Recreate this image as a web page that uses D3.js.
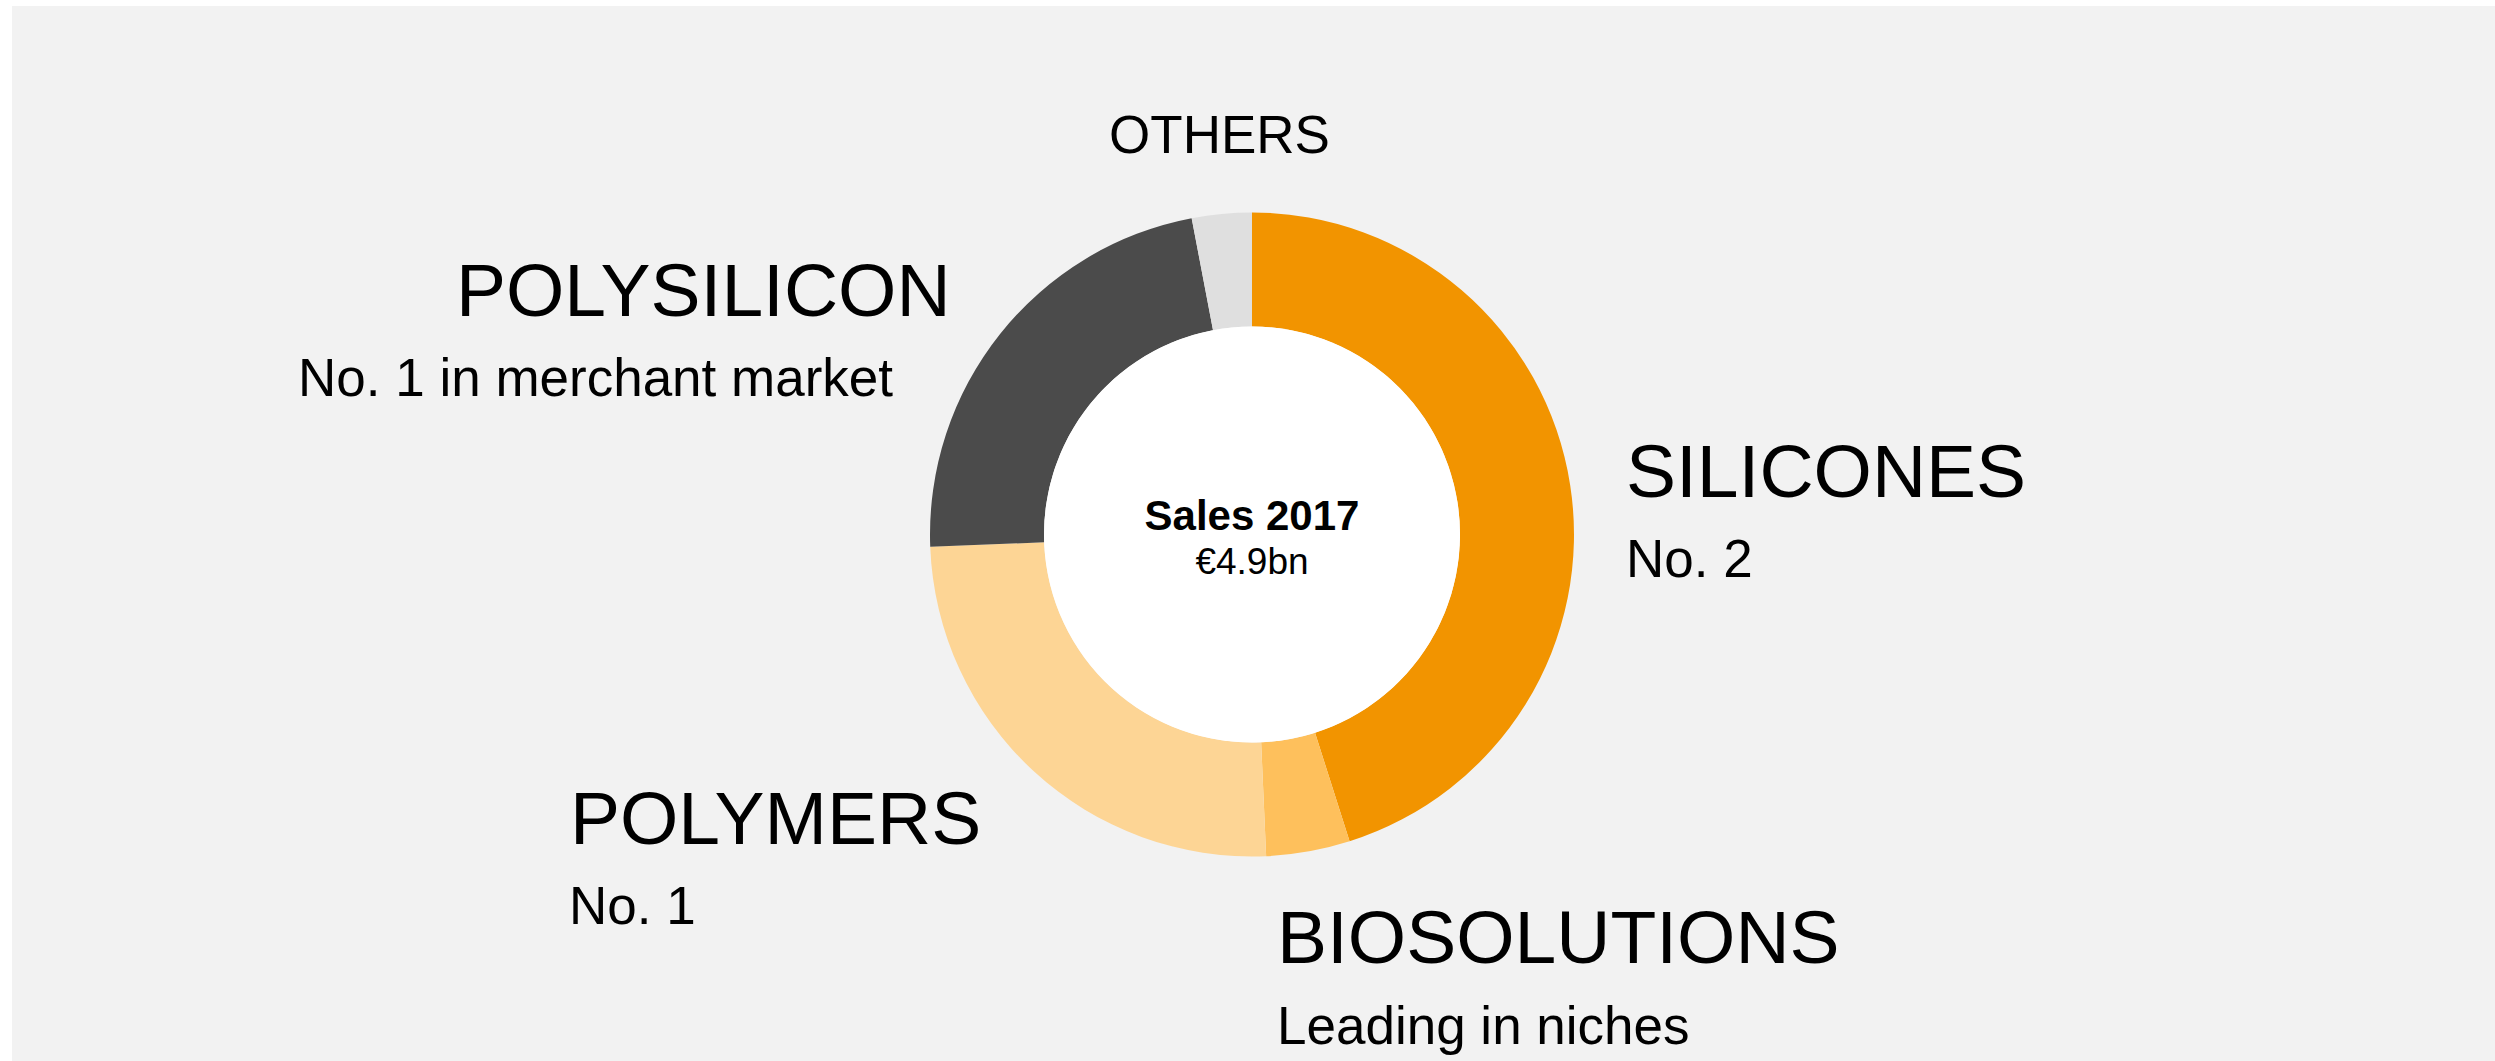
<!DOCTYPE html>
<meta charset="utf-8">
<title>Sales 2017 by division</title>
<script src="https://d3js.org/d3.v7.min.js"></script>

<style>
  body {
    margin: 0;
    background-color: #ffffff;
  }

  text {
    font-family: "Liberation Sans", Arial, Helvetica, sans-serif;
    fill: #000;
  }

  .title {
    font-size: 75px;
  }

  .sub {
    font-size: 53px;
  }
</style>

<body>
  <svg width="2495" height="1061"></svg>
</body>

<script>
  // share of sales 2017, in %, clockwise from 12 o'clock
  var divisions = ["SILICONES", "BIOSOLUTIONS", "POLYMERS", "POLYSILICON", "OTHERS"];
  var shares = [45.1, 4.2, 25.1, 22.6, 3.0];
  var colors = ["#F29400", "#FEC05C", "#FDD595", "#4B4B4B", "#DFDFDF"];
  var rankings = ["No. 2", "Leading in niches", "No. 1", "No. 1 in merchant market", ""];

  var centerTitle = "Sales 2017",
    centerValue = "€4.9bn";

  var svg = d3.select("svg"),
    width = +svg.attr("width"),
    height = +svg.attr("height"),
    cx = 1252, cy = 534.5,
    outer = 322, inner = 208;

  svg.append("rect")
    .attr("x", 12)
    .attr("y", 6)
    .attr("width", width - 12)
    .attr("height", height - 6)
    .style("fill", "#F2F2F2");

  var data = divisions.map(function (d, i) {
    return { name: d, value: shares[i], color: colors[i], rank: rankings[i] };
  });

  var pie = d3.pie()
    .sort(null)
    .value(function (d) { return d.value; });

  var arc = d3.arc()
    .innerRadius(inner)
    .outerRadius(outer);

  var g = svg.append("g").attr("transform", "translate(" + cx + "," + cy + ")");

  g.selectAll("path")
    .data(pie(data))
    .enter().append("path")
    .attr("d", arc)
    .style("fill", function (d) { return d.data.color; });

  g.append("circle")
    .attr("r", inner)
    .style("fill", "#ffffff");

  g.append("text")
    .attr("text-anchor", "middle")
    .attr("y", -5)
    .style("font-size", "42px")
    .style("font-weight", "bold")
    .text(centerTitle);

  g.append("text")
    .attr("text-anchor", "middle")
    .attr("y", 39)
    .style("font-size", "37px")
    .text(centerValue);

  // label placement: [title x, title baseline, subtitle x, subtitle baseline]
  var labelPos = {
    "SILICONES": [1626, 497, 1626, 577],
    "BIOSOLUTIONS": [1277, 963, 1277, 1044],
    "POLYMERS": [570, 844, 569, 924],
    "POLYSILICON": [456, 316, 298, 396]
  };

  var labels = svg.selectAll("g.label")
    .data(data.filter(function (d) { return labelPos[d.name]; }))
    .enter().append("g")
    .attr("class", "label");

  labels.append("text")
    .attr("class", "title")
    .attr("x", function (d) { return labelPos[d.name][0]; })
    .attr("y", function (d) { return labelPos[d.name][1]; })
    .text(function (d) { return d.name; });

  labels.append("text")
    .attr("class", "sub")
    .attr("x", function (d) { return labelPos[d.name][2]; })
    .attr("y", function (d) { return labelPos[d.name][3]; })
    .text(function (d) { return d.rank; });

  svg.append("text")
    .attr("x", 1219.5)
    .attr("y", 153)
    .attr("text-anchor", "middle")
    .style("font-size", "53px")
    .text(divisions[4]);

</script>
